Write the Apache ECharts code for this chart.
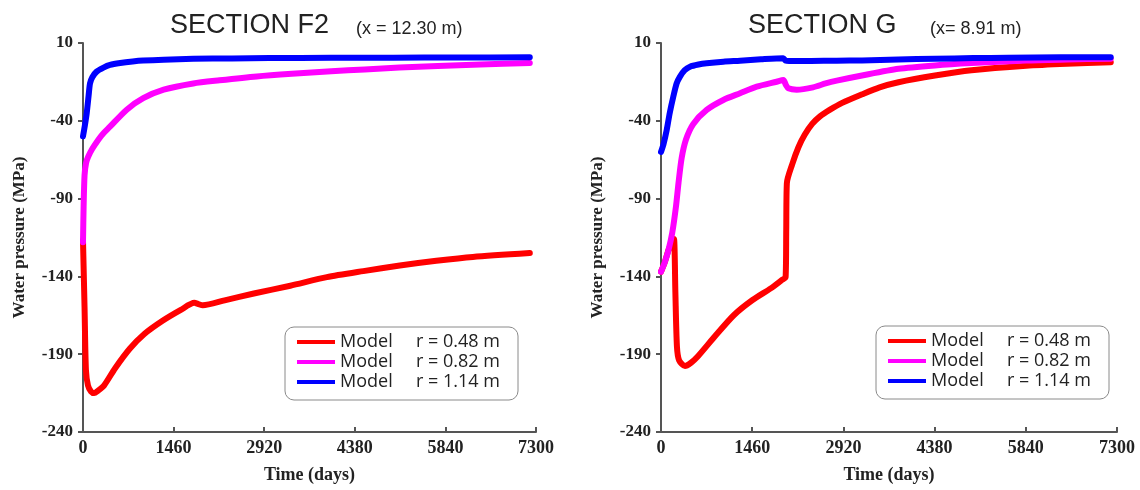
<!DOCTYPE html>
<html>
<head>
<meta charset="utf-8">
<script src="https://cdn.jsdelivr.net/npm/echarts@6/dist/echarts.min.js"></script>
<style>
  html, body { margin: 0; padding: 0; background: #ffffff; }
  #chart { width: 1140px; height: 490px; }
</style>
</head>
<body>
<div id="chart"></div>
<script>
// Time axis (days) and pressure axis (MPa) ticks
const timeTicks = [0, 1460, 2920, 4380, 5840, 7300];
const pressureTicks = [-240, -190, -140, -90, -40, 10];

// Radii of the three model curves
const radii = ['r = 0.48 m', 'r = 0.82 m', 'r = 1.14 m'];

// Section F2 (x = 12.30 m)
const f2RedT = [0, 25, 47, 80, 130, 180, 240, 341, 518, 753, 988, 1282, 1576, 1794, 1860, 1930, 2282, 2753, 3341, 3929, 4517, 5106, 5694, 6282, 7200];
const f2RedP = [-117, -160, -200, -210, -214, -215, -213.5, -210, -199, -186.5, -177, -168.5, -161.5, -157, -157.8, -158.6, -155.4, -151, -146, -140.5, -136.6, -133, -130, -127.5, -125];

const f2MagT = [0, 10, 25, 50, 85, 150, 250, 330, 435, 700, 971, 1300, 1777, 2200, 2800, 3365, 4000, 4540, 5100, 5717, 6400, 7200];
const f2MagP = [-118, -95, -75, -67, -63, -58, -52, -48, -43.8, -33, -25.5, -20, -16, -14, -11.5, -9.8, -8.2, -7, -5.8, -4.8, -3.8, -2.8];

const f2BlueT = [0, 30, 60, 90, 113, 150, 220, 330, 435, 600, 800, 970, 1300, 1777, 2400, 3000, 4000, 5000, 6000, 7200];
const f2BlueP = [-50, -43, -35, -24, -16, -12, -8.4, -5.8, -4.1, -2.9, -1.9, -1.3, -0.7, -0.2, 0.1, 0.3, 0.5, 0.6, 0.7, 0.8];

// Section G (x = 8.91 m)
const gRedT = [0, 60, 120, 180, 208, 230, 255, 290, 384, 480, 588, 880, 1169, 1465, 1757, 1932, 1995, 2005, 2015, 2100, 2200, 2300, 2420, 2550, 2700, 2900, 3218, 3500, 3802, 4386, 4970, 5846, 6500, 7200];
const gRedP = [-137, -131, -123, -118, -116, -150, -185, -194, -197.6, -195.5, -191.5, -177.7, -164.8, -155.2, -147.7, -142.4, -140.5, -110, -80, -68, -57, -49, -42, -37, -33, -28.5, -23, -18.5, -15.2, -10.9, -7.5, -4.6, -3.3, -2.3];

const gMagT = [0, 60, 120, 180, 240, 280, 330, 400, 517, 731, 998, 1265, 1532, 1852, 1958, 2000, 2038, 2172, 2434, 2634, 2813, 3218, 3802, 4386, 4970, 5846, 6500, 7200];
const gMagP = [-137, -131, -123, -112, -95, -80, -64, -52, -42, -33, -26.6, -22.3, -18.1, -14.9, -13.8, -17, -19.1, -20, -18.5, -16, -14.2, -10.9, -6.6, -4.4, -2.9, -1.2, -0.6, -0.1];

const gBlueT = [0, 40, 91, 140, 197, 250, 304, 380, 464, 600, 731, 1000, 1265, 1600, 1958, 1990, 2050, 2400, 2813, 3218, 3800, 4386, 5000, 5554, 6400, 7200];
const gBlueP = [-60, -55, -46, -35, -24.5, -16, -11.6, -7.5, -5.2, -3.8, -3, -2, -1.4, -0.5, 0.2, -1.2, -1.5, -1.5, -1.4, -1.2, -0.6, -0.1, 0.3, 0.5, 0.8, 0.9];

const colors = ['#ff0000', '#ff00ff', '#0000ff'];

const zip = (t, p) => t.map((v, i) => [v, p[i]]);

const serifBold = { fontFamily: 'Liberation Serif', fontWeight: 'bold', color: '#222' };

function xAxisFor(gridIndex) {
  return {
    type: 'value', gridIndex, min: 0, max: 7300, interval: 1460,
    name: 'Time (days)', nameLocation: 'middle', nameGap: 34,
    nameTextStyle: Object.assign({ fontSize: 18 }, serifBold),
    axisLine: { show: true, onZero: false, lineStyle: { color: '#555', width: 2 } },
    axisTick: { show: true, inside: true, length: 5, customValues: timeTicks, lineStyle: { color: '#555', width: 2 } },
    axisLabel: Object.assign({ fontSize: 18, margin: 7, customValues: timeTicks, formatter: v => String(v) }, serifBold),
    splitLine: { show: false }
  };
}

function yAxisFor(gridIndex) {
  return {
    type: 'value', gridIndex, min: -240, max: 10,
    name: 'Water pressure (MPa)', nameLocation: 'middle', nameGap: 55, nameRotate: 90,
    nameTextStyle: Object.assign({ fontSize: 17 }, serifBold),
    axisLine: { show: true, onZero: false, lineStyle: { color: '#555', width: 2 } },
    axisTick: { show: true, inside: false, length: 5, customValues: pressureTicks, lineStyle: { color: '#555', width: 2 } },
    axisLabel: Object.assign({ fontSize: 17, margin: 10, customValues: pressureTicks, formatter: v => String(v) }, serifBold),
    splitLine: { show: false }
  };
}

function lineSeries(name, data, idx, axisIdx, width) {
  return {
    type: 'line', name, data, xAxisIndex: axisIdx, yAxisIndex: axisIdx,
    showSymbol: false, smooth: 0.25, z: 2 + idx,
    lineStyle: { color: colors[idx], width, cap: 'round', join: 'round' },
    itemStyle: { color: colors[idx] }
  };
}

function legendFor(left, top) {
  return {
    orient: 'vertical', left, top, data: radii,
    icon: 'rect', itemWidth: 38, itemHeight: 4, itemGap: 0,
    padding: [5, 12, 8, 12],
    borderColor: '#8a8a8a', borderWidth: 1, borderRadius: 9,
    backgroundColor: '#ffffff',
    selectedMode: false,
    formatter: name => '{m|Model}{r|' + name + '}',
    textStyle: {
      fontFamily: 'Open Sans', fontSize: 18, color: '#222', lineHeight: 20,
      rich: {
        m: { fontFamily: 'Open Sans', fontSize: 18, width: 76, lineHeight: 20, color: '#222' },
        r: { fontFamily: 'Open Sans', fontSize: 18, width: 90, lineHeight: 20, color: '#222' }
      }
    }
  };
}

const titleMain = { fontFamily: 'Liberation Sans', fontSize: 27, fontWeight: 'normal', color: '#222' };
const titleSub = { fontFamily: 'Liberation Sans', fontSize: 18, fontWeight: 'normal', color: '#222' };

const option = {
  backgroundColor: '#ffffff',
  animation: false,
  title: [
    { text: 'SECTION F2', left: 170, top: 12, padding: 0, textStyle: titleMain },
    { text: '(x = 12.30 m)', left: 356, top: 20, padding: 0, textStyle: titleSub },
    { text: 'SECTION G', left: 748, top: 12, padding: 0, textStyle: titleMain },
    { text: '(x= 8.91 m)', left: 930, top: 20, padding: 0, textStyle: titleSub }
  ],
  grid: [
    { left: 83, right: 604, top: 43, bottom: 58 },
    { left: 661, right: 23, top: 43, bottom: 58 }
  ],
  xAxis: [xAxisFor(0), xAxisFor(1)],
  yAxis: [yAxisFor(0), yAxisFor(1)],
  legend: [legendFor(285, 327), legendFor(876, 326)],
  series: [
    lineSeries(radii[0], zip(f2RedT, f2RedP), 0, 0, 6),
    lineSeries(radii[1], zip(f2MagT, f2MagP), 1, 0, 6),
    lineSeries(radii[2], zip(f2BlueT, f2BlueP), 2, 0, 6),
    lineSeries(radii[0], zip(gRedT, gRedP), 0, 1, 6),
    lineSeries(radii[1], zip(gMagT, gMagP), 1, 1, 6),
    lineSeries(radii[2], zip(gBlueT, gBlueP), 2, 1, 6)
  ]
};

const chart = echarts.init(document.getElementById('chart'), null, { renderer: 'canvas' });
chart.setOption(option);
</script>
</body>
</html>
